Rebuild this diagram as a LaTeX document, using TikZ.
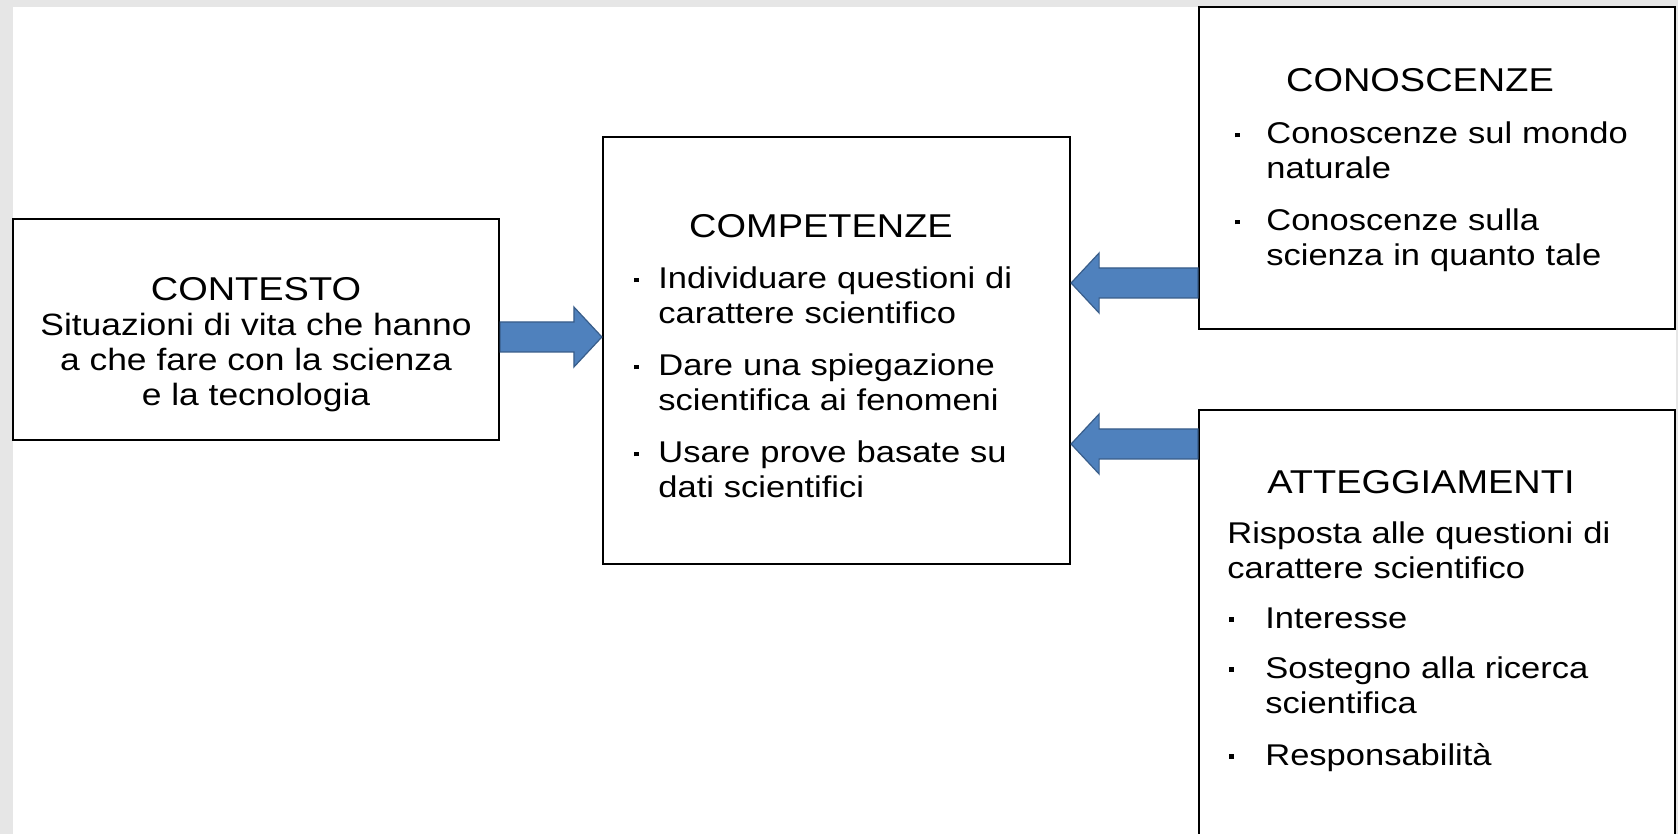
\documentclass[tikz,border=0pt]{standalone}
\usepackage{fontspec}
\setmainfont{Liberation Sans}[FakeStretch=1.15]
\usetikzlibrary{calc}

\definecolor{frecciablu}{RGB}{79,129,189}
\definecolor{bordoblu}{RGB}{56,93,138}
\definecolor{sfondo}{RGB}{230,230,230}

% voce di elenco con il punto
\newcommand{\voce}[2][16pt]{\noindent\hbox to #1{\hskip1pt\rule[3.2pt]{2.3pt}{2.3pt}\hfil}\begin{tabular}[t]{@{}l@{}}#2\end{tabular}\par}

\tikzset{
	every picture/.append style={x=0.5pt,y=-0.5pt,font=\fontsize{15pt}{17.5pt}\selectfont},
	mybox/.style = {draw=black, line width=1.1pt, fill=white, inner sep=0pt},
	mytitle/.style = {inner sep=0pt, anchor=north, font=\fontsize{16.5pt}{17.5pt}\selectfont},
	mylist/.style = {inner sep=0pt, anchor=north west, align=left, text width=210pt,
		execute at begin node={\setlength{\parskip}{7.5pt}}},
	myarrow/.style = {fill=frecciablu, draw=bordoblu, line width=0.6pt,
		to path={let \p1=(\tikztostart), \p2=(\tikztotarget),
			\p3=($(\tikztotarget)!14pt!(\tikztostart)$) in
			(\x1,\y1+7.5pt) -- (\x3,\y1+7.5pt) -- (\x3,\y1+15pt) -- (\x2,\y2)
			-- (\x3,\y1-15pt) -- (\x3,\y1-7.5pt) -- (\x1,\y1-7.5pt) -- cycle}}
}

\begin{document}
\begin{tikzpicture}
	\useasboundingbox (0,0) rectangle (1678,834);
	\clip (0,0) rectangle (1678,834);
	\fill[sfondo] (0,0) rectangle (1678,834);
	\fill[white] (13,7) rectangle (1676,834);

	\node[mybox, minimum width=243pt, minimum height=110.5pt] at (256,329.5) (ctx) {};
	\node[mybox, minimum width=233.5pt, minimum height=213.5pt] at (836.5,350.5) (cmp) {};
	\node[mybox, minimum width=238pt, minimum height=161pt] at (1437,168) (cono) {};
	\node[mybox, minimum width=238pt, minimum height=225pt] at (1437,635) (att) {};

	\node[mytitle, align=center, font=\fontsize{15.4pt}{17.5pt}\selectfont] at (256,277) (ctxT) {{\fontsize{16.5pt}{17.5pt}\selectfont CONTESTO}\\Situazioni di vita che hanno\\a che fare con la scienza\\e la tecnologia};

	\node[mytitle] at (821,214) (cmpT) {COMPETENZE};
	\node[mylist] at (632,264) (cmpL) {\voce[13pt]{Individuare questioni di\\carattere scientifico}\voce[13pt]{Dare una spiegazione\\scientifica ai fenomeni}\voce[13pt]{Usare prove basate su\\dati scientifici}};

	\node[mytitle] at (1420,68) (conoT) {CONOSCENZE};
	\node[mylist] at (1233,119) (conoL) {\voce[16.5pt]{Conoscenze sul mondo\\naturale}\voce[16.5pt]{Conoscenze sulla\\scienza in quanto tale}};

	\node[mytitle] at (1421,470) (attT) {ATTEGGIAMENTI};
	\node[mylist] at (1227,521) (attL) {\noindent Risposta alle questioni di\\carattere scientifico\par\voce[19pt]{Interesse}\voce[19pt]{Sostegno alla ricerca\\scientifica}\voce[19pt]{Responsabilità}};

	\coordinate (a1) at (ctx.east |- 0,337);
	\coordinate (b1) at (cmp.west |- a1);
	\coordinate (a2) at (cono.west |- 0,283);
	\coordinate (b2) at (cmp.east |- a2);
	\coordinate (a3) at (att.west |- 0,444);
	\coordinate (b3) at (cmp.east |- a3);
	\draw[myarrow] (a1) to (b1);
	\draw[myarrow] (a2) to (b2);
	\draw[myarrow] (a3) to (b3);
\end{tikzpicture}
\end{document}
